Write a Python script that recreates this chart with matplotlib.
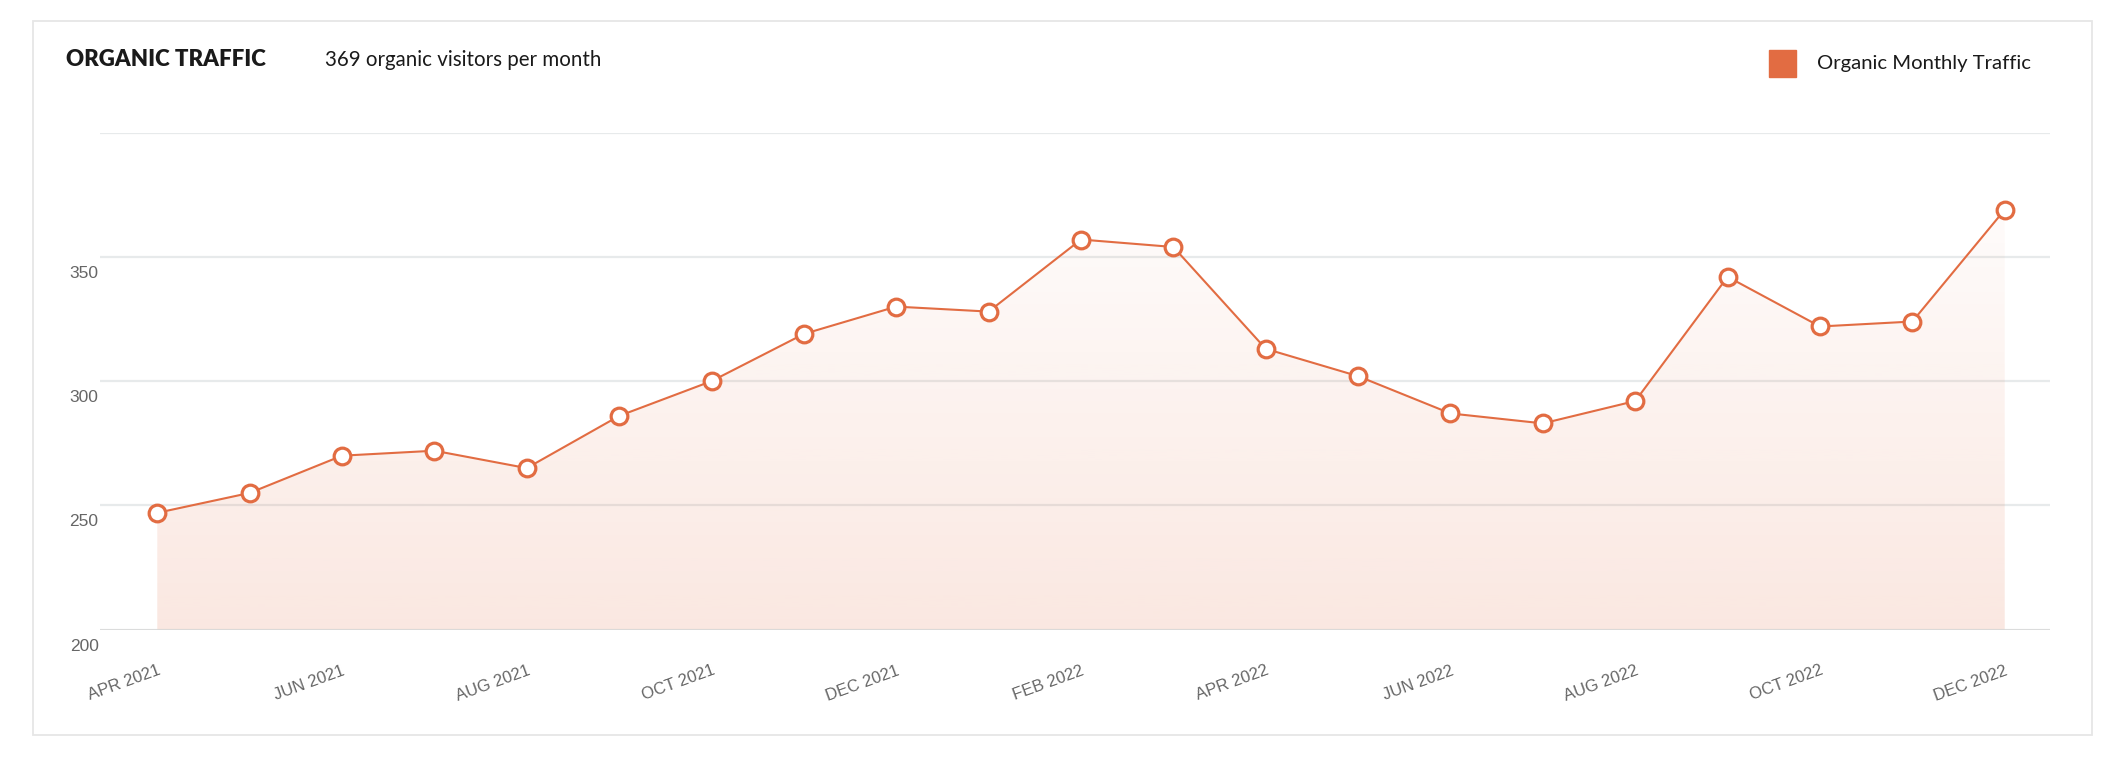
"""Organic traffic line chart -> out.png (2102x774)."""
import matplotlib
matplotlib.use("Agg")
import matplotlib.pyplot as plt
import numpy as np
from matplotlib.colors import to_rgb
from matplotlib.patches import Rectangle
from matplotlib.transforms import ScaledTranslation

MONTHS = [
    "APR 2021", "MAY 2021", "JUN 2021", "JUL 2021", "AUG 2021", "SEP 2021",
    "OCT 2021", "NOV 2021", "DEC 2021", "JAN 2022", "FEB 2022", "MAR 2022",
    "APR 2022", "MAY 2022", "JUN 2022", "JUL 2022", "AUG 2022", "SEP 2022",
    "OCT 2022", "NOV 2022", "DEC 2022",
]
TRAFFIC = [247, 255, 270, 272, 265, 286, 300, 319, 330, 328, 357, 354,
           313, 302, 287, 283, 292, 342, 322, 324, 369]
Y_GRID = [200, 250, 300, 350, 400]
Y_LABELS = ["200", "250", "300", "350", ""]

TITLE = "ORGANIC TRAFFIC"
SUBTITLE = "369 organic visitors per month"
LEGEND = "Organic Monthly Traffic"

ORANGE = "#e26c42"
W, H = 2102, 774


def fx(px):
    return px / W


def fy(py):
    return 1 - py / H


def main():
    fig = plt.figure(figsize=(W / 100, H / 100), dpi=100)
    ax = fig.add_axes([fx(100), fy(629.6), fx(2050 - 100), (629.6 - 132.7) / H])
    x = np.arange(len(TRAFFIC))

    # gradient fill under the line, clipped to the area polygon
    area = ax.fill_between(x, TRAFFIC, 200, color="none", lw=0)
    rgba = np.zeros((256, 1, 4))
    rgba[:, :, :3] = to_rgb(ORANGE)
    rgba[:, 0, 3] = np.linspace(0.16, 0.0, 256)
    im = ax.imshow(rgba, origin="lower", aspect="auto",
                   extent=[x[0], x[-1], 200, 400], zorder=1)
    im.set_clip_path(area.get_paths()[0], ax.transData)

    ax.plot(x, TRAFFIC, color=ORANGE, lw=1.5, marker="o", ms=12,
            mfc="white", mec=ORANGE, mew=2.3, zorder=3, clip_on=False)

    ax.set_xlim(-0.62, 20.49)
    ax.set_ylim(200, 400)
    ax.set_yticks(Y_GRID, Y_LABELS)
    ax.yaxis.grid(True, color="#e7eaeb", lw=1.6, zorder=0)
    ax.set_axisbelow(True)
    ax.axhline(200, color="#d8d8d8", lw=1.8, zorder=2)
    for s in ax.spines.values():
        s.set_visible(False)

    ax.tick_params(axis="y", length=0, pad=1, labelsize=12.5, labelcolor="#666666")
    off = ScaledTranslation(0, -0.09, fig.dpi_scale_trans)
    for lab in ax.get_yticklabels():
        lab.set_fontfamily("Liberation Sans")
        lab.set_verticalalignment("top")
        lab.set_transform(lab.get_transform() + off)

    ax.set_xticks(x[::2], MONTHS[::2])
    ax.tick_params(axis="x", length=0, pad=24, labelsize=12, labelcolor="#666666")
    for lab in ax.get_xticklabels():
        lab.set_fontfamily("Liberation Sans")
        lab.set_rotation(20)
        lab.set_rotation_mode("anchor")
        lab.set_ha("right")
        lab.set_va("top")

    # card border
    fig.add_artist(Rectangle((fx(33), fy(735)), fx(2092 - 33), (735 - 21) / H,
                             transform=fig.transFigure, fill=False,
                             ec="#e6e6e6", lw=1.3))

    fig.text(fx(66), fy(60), TITLE, ha="left", va="center", fontsize=16,
             family="Lato", weight="heavy", color="#1a1a1a")
    fig.text(fx(325), fy(60), SUBTITLE, ha="left", va="center", fontsize=14.8,
             family="Lato", color="#1a1a1a")

    # legend
    fig.add_artist(Rectangle((fx(1769), fy(77)), fx(27), 27 / H,
                             transform=fig.transFigure, color=ORANGE))
    fig.text(fx(1817), fy(63), LEGEND, ha="left", va="center", fontsize=14.6,
             family="Lato", color="#1a1a1a")

    fig.savefig("out.png", dpi=100)


if __name__ == "__main__":
    main()
